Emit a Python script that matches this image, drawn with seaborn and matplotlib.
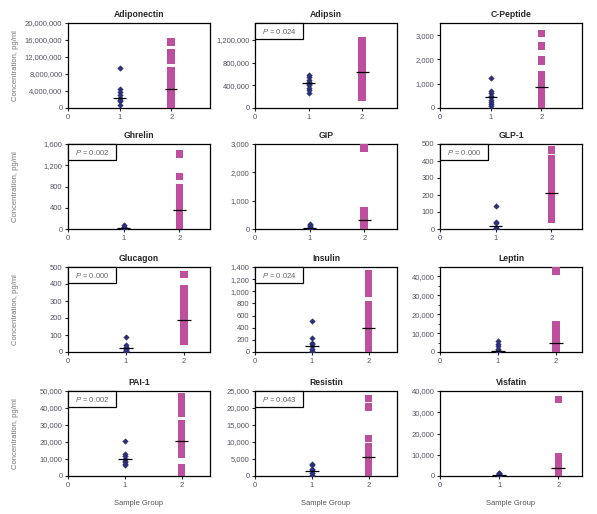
import numpy as np
import pandas as pd
import seaborn as sns
import matplotlib.pyplot as plt
from matplotlib.patches import Rectangle
from matplotlib.ticker import FuncFormatter, MultipleLocator

panel_names = ["Adiponectin", "Adipsin", "C-Peptide", "Ghrelin", "GIP", "GLP-1",
               "Glucagon", "Insulin", "Leptin", "PAI-1", "Resistin", "Visfatin"]
p_values = [None, "0.024", None, "0.002", None, "0.000",
            "0.000", "0.024", None, "0.002", "0.043", None]
y_max = [20000000, 1500000, 3500, 1600, 3000, 500, 500, 1400, 45000, 50000, 25000, 40000]
y_step = [4000000, 400000, 1000, 400, 1000, 100, 100, 200, 10000, 10000, 5000, 10000]
x_max = [2.75, 2.65, 2.8, 2.55, 2.6, 2.55, 2.45, 2.5, 2.45, 2.5, 2.5, 2.4]

# readings, pg/ml  (g1 = sample group 1, g2 = sample group 2)
adiponectin_g1 = [9300000, 4400000, 3700000, 3000000, 2300000, 2000000, 1600000, 800000]
adiponectin_g2 = [15500000, 13100000, 11300000, 8800000, 8100000, 7400000, 6000000, 4400000,
                  3800000, 3200000, 2600000, 2000000, 1400000, 800000, 300000]
adipsin_g1 = [585000, 540000, 495000, 460000, 430000, 400000, 360000, 325000, 265000]
adipsin_g2 = [1190000, 1140000, 1080000, 1010000, 870000, 790000, 660000,
              600000, 540000, 480000, 420000, 360000, 300000, 240000, 190000]
cpeptide_g1 = [1220, 710, 615, 505, 440, 330, 260, 165, 95]
cpeptide_g2 = [3070, 2560, 2000, 1920, 1370, 1050, 900, 750, 600, 450, 300, 150]
ghrelin_g1 = [70, 45, 30, 20, 12, 8, 5, 3]
ghrelin_g2 = [1410, 990, 770, 635, 550, 480, 410, 340, 270, 200, 130, 60, 10]
gip_g1 = [190, 140, 100, 60, 40, 25, 15, 10]
gip_g2 = [2860, 640, 560, 480, 400, 320, 240, 160, 80, 20]
glp1_g1 = [133, 41, 35, 8, 4, 2, 1, 0]
glp1_g2 = [465, 410, 385, 360, 335, 310, 300, 260, 235, 210, 185, 160, 135, 110, 85, 60]
glucagon_g1 = [86, 39, 30, 20, 14, 8, 4, 2]
glucagon_g2 = [455, 370, 345, 320, 295, 280, 245, 220, 195, 170, 145, 120, 95, 65]
insulin_g1 = [512, 229, 150, 131, 93, 54, 22, 5]
insulin_g2 = [1290, 1230, 1100, 1040, 970, 780, 720, 630, 560, 440, 380, 320, 260,
              200, 140, 80, 20]
leptin_g1 = [5800, 4400, 3200, 1500, 800, 500, 300, 100]
leptin_g2 = [43000, 14500, 12800, 11000, 9000, 7500, 6000, 4500, 3000, 1500, 300]
pai1_g1 = [20600, 13100, 11800, 10200, 9000, 8200, 7300, 6500]
pai1_g2 = [46500, 44000, 41500, 39500, 37000, 30500, 28000, 25500, 23000, 20500, 18000,
           15500, 13000, 5000, 2500, 500]
resistin_g1 = [3650, 3100, 2200, 1800, 1400, 1000, 400, 100]
resistin_g2 = [22750, 20300, 11000, 8500, 7000, 5500, 4000, 2500, 1000]
visfatin_g1 = [1600, 1300, 1100, 900, 700, 500, 300, 100]
visfatin_g2 = [36000, 8800, 7400, 6200, 4800, 3600, 2400, 1200, 200]

# horizontal centre bars as drawn in the figure
center_g1 = [2400000, 434000, 440, 20, 25, 20, 23, 103, 530, 9800, 1570, 630]
center_g2 = [4400000, 633000, 850, 351, 306, 212, 187, 392, 4900, 20800, 5490, 3600]

group1 = [adiponectin_g1, adipsin_g1, cpeptide_g1, ghrelin_g1, gip_g1, glp1_g1,
          glucagon_g1, insulin_g1, leptin_g1, pai1_g1, resistin_g1, visfatin_g1]
group2 = [adiponectin_g2, adipsin_g2, cpeptide_g2, ghrelin_g2, gip_g2, glp1_g2,
          glucagon_g2, insulin_g2, leptin_g2, pai1_g2, resistin_g2, visfatin_g2]

navy = "#2a2f78"
magenta = "#bd4f9e"

sns.set_style("ticks")
plt.rcParams["font.family"] = ["Liberation Sans", "DejaVu Sans"]
plt.rcParams["mathtext.fontset"] = "custom"
plt.rcParams["mathtext.rm"] = "Liberation Sans"
plt.rcParams["mathtext.it"] = "Liberation Sans:italic"

W, H = 597, 514
fig = plt.figure(figsize=(W / 100, H / 100), dpi=100)

col_left = [68, 255, 440]
row_top = [23, 144, 267, 391]
ax_w, ax_h = 142, 85

fmt = FuncFormatter(lambda v, pos: f"{v:,.0f}")

for i, name in enumerate(panel_names):
    r, c = divmod(i, 3)
    ax = fig.add_axes([col_left[c] / W, 1 - (row_top[r] + ax_h) / H, ax_w / W, ax_h / H])

    df = pd.DataFrame({
        "group": [1] * len(group1[i]) + [2] * len(group2[i]),
        "value": group1[i] + group2[i],
    })
    sns.scatterplot(data=df[df.group == 1], x="group", y="value", ax=ax, marker="D",
                    s=8, color=navy, edgecolor=navy, linewidth=0.3, legend=False, zorder=3)
    sns.scatterplot(data=df[df.group == 2], x="group", y="value", ax=ax, marker="s",
                    s=30, color=magenta, edgecolor="none", linewidth=0, legend=False, zorder=3)

    ax.hlines(center_g1[i], 0.88, 1.12, color="black", lw=0.9, zorder=4)
    ax.hlines(center_g2[i], 1.88, 2.12, color="black", lw=0.9, zorder=4)

    ax.set_xlim(0, x_max[i])
    ax.set_ylim(0, y_max[i])
    ax.set_xticks([0, 1, 2])
    ax.set_yticks(np.arange(0, y_max[i] + 1, y_step[i]))
    ax.yaxis.set_major_formatter(fmt)
    if name == "Leptin":
        ax.yaxis.set_minor_locator(MultipleLocator(5000))
        ax.tick_params(axis="y", which="minor", length=1.5, width=0.6)

    for sp in ax.spines.values():
        sp.set_visible(True)
        sp.set_linewidth(0.9)
        sp.set_color("black")
    ax.tick_params(axis="both", which="major", labelsize=5.5, length=2.5, width=0.8,
                   pad=1.5, labelcolor="#555566")

    ax.set_title(name, fontsize=6.2, fontweight="bold", pad=4)
    ax.set_xlabel("Sample Group" if r == 3 else "", fontsize=5.5, color="#555555", labelpad=8)
    ax.set_ylabel("")

    if p_values[i] is not None:
        ax.add_patch(Rectangle((0, 0.815), 0.335, 0.185, transform=ax.transAxes,
                               facecolor="white", edgecolor="black", lw=0.9,
                               clip_on=False, zorder=5))
        ax.text(0.05, 0.905, r"$\it{P}$ = " + p_values[i], transform=ax.transAxes,
                fontsize=5.5, color="#666666", va="center", ha="left", zorder=6)

    if c == 0:
        fig.text(16 / W, 1 - (row_top[r] + ax_h / 2) / H, "Concentration, pg/ml",
                 rotation=90, fontsize=5.5, color="#777777", ha="center", va="center")

fig.savefig("out.png", dpi=100)
